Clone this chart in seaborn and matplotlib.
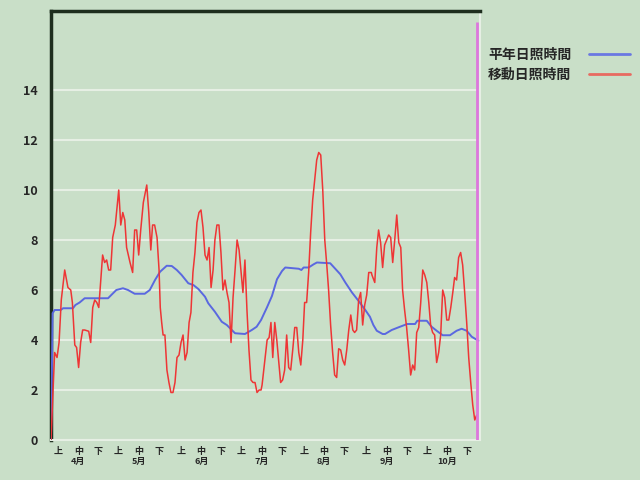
import numpy as np
import pandas as pd
import seaborn as sns
import matplotlib.pyplot as plt
from matplotlib.lines import Line2D

# days counted from April 1
normal_days = [0, 0.8, 1.8, 4.8, 6.0, 10.9, 12.1, 14.2, 16.7, 28.3, 29.9, 32.4, 35.7, 38.2,
               41.5, 46.5, 49.0, 51.6, 54.1, 57.4, 59.9, 62.4, 64.8, 68.1, 70.6, 73.1, 76.4,
               78.0, 81.3, 84.7, 87.2, 91.3, 96.2, 99.6, 102.0, 104.2, 107.1, 109.6, 112.1,
               114.6, 116.2, 122.9, 124.2, 125.3, 127.8, 130.3, 131.9, 138.5, 141.0, 143.5,
               146.0, 149.3, 152.6, 155.9, 158.2, 159.9, 161.6, 164.5, 165.7, 169.0, 173.1,
               176.7, 180.6, 181.7, 186.4, 188.8, 191.3, 194.3, 197.9, 201.2, 203.7, 206.2,
               208.7, 212.0]
normal_hours = [0.0, 5.07, 5.2, 5.2, 5.27, 5.27, 5.4, 5.5, 5.67, 5.67, 5.8, 6.0, 6.07, 6.0,
                5.85, 5.85, 6.0, 6.4, 6.73, 6.97, 6.96, 6.8, 6.6, 6.27, 6.2, 6.04, 5.73,
                5.47, 5.13, 4.73, 4.6, 4.27, 4.24, 4.4, 4.53, 4.8, 5.3, 5.76, 6.43,
                6.76, 6.9, 6.85, 6.8, 6.9, 6.9, 7.03, 7.1, 7.07, 6.85, 6.63,
                6.3, 5.9, 5.56, 5.2, 4.93, 4.6, 4.37, 4.24, 4.24, 4.4, 4.53,
                4.64, 4.64, 4.77, 4.77, 4.53, 4.37, 4.19, 4.19, 4.37, 4.45, 4.37,
                4.13, 3.97]

moving_days = [0, 1.8, 3.0, 4.0, 5.1, 6.8, 8.4, 9.8, 10.6, 11.8, 12.7, 13.7, 14.7, 15.7,
               16.7, 18.7, 19.7, 20.7, 21.7, 22.7, 23.7, 24.7, 25.6, 26.6, 27.6, 28.6, 29.6,
               30.6, 31.9, 33.6, 34.6, 35.6, 36.6, 37.5, 39.2, 40.5, 41.5, 42.5, 43.5, 44.5,
               45.8, 47.5, 48.5, 49.5, 50.4, 51.4, 52.6, 53.6, 54.2, 54.9, 55.6, 56.5, 57.5,
               58.5, 59.5, 60.5, 61.5, 62.5, 63.5, 64.5, 65.5, 66.5, 67.5, 68.5, 69.4, 70.4,
               71.4, 72.4, 73.4, 74.4, 75.4, 76.4, 77.4, 78.4, 79.4, 80.4, 81.3, 82.3, 83.3,
               84.3, 85.3, 86.3, 87.3, 88.3, 89.3, 90.3, 91.3, 92.3, 93.3, 94.2, 95.2, 96.2,
               97.2, 98.2, 99.2, 100.2, 101.2, 102.2, 103.2, 104.2, 104.7, 105.8, 107.2,
               108.2, 109.1, 110.0, 111.0, 112.0, 112.9, 113.9, 114.9, 115.9, 116.9, 117.9,
               118.9, 119.9, 120.9, 121.9, 122.9, 123.9, 124.9, 125.8, 126.8, 127.8, 128.8,
               129.8, 130.8, 131.8, 132.8, 133.8, 134.8, 135.8, 136.8, 137.7, 138.7, 139.7,
               140.7, 141.7, 142.7, 143.7, 144.7, 145.7, 146.7, 147.7, 148.7, 149.7, 150.6,
               151.6, 152.6, 153.6, 154.6, 155.6, 156.6, 157.6, 158.9, 159.2, 160.6, 161.6,
               162.5, 163.5, 164.5, 165.5, 166.5, 167.5, 168.5, 169.5, 170.5, 171.5, 172.5,
               173.5, 174.4, 175.4, 176.4, 177.4, 178.4, 179.4, 180.4, 181.4, 182.4, 183.4,
               184.4, 185.4, 186.4, 187.4, 188.3, 189.3, 190.3, 191.3, 192.3, 193.3, 194.3,
               195.3, 196.3, 197.3, 198.3, 199.3, 200.2, 201.2, 202.2, 203.2, 204.2, 205.2,
               206.2, 207.2, 208.2, 209.2, 210.2, 211.2]
moving_hours = [0.0, 3.5, 3.3, 3.9, 5.6, 6.8, 6.1, 6.0, 5.5, 3.8, 3.7, 2.9, 3.9, 4.4,
                4.4, 4.35, 3.9, 5.3, 5.6, 5.5, 5.3, 6.4, 7.4, 7.1, 7.2, 6.8, 6.8,
                8.1, 8.6, 10.0, 8.6, 9.1, 8.8, 7.7, 7.1, 6.7, 8.4, 8.4, 7.4, 8.4,
                9.5, 10.2, 9.1, 7.6, 8.6, 8.6, 8.1, 6.8, 5.3, 4.7, 4.2, 4.2, 2.8,
                2.3, 1.9, 1.9, 2.3, 3.3, 3.4, 3.9, 4.2, 3.2, 3.5, 4.7, 5.1, 6.7,
                7.5, 8.7, 9.1, 9.2, 8.5, 7.4, 7.2, 7.7, 6.1, 6.8, 8.0, 8.6, 8.6,
                7.5, 6.0, 6.4, 5.9, 5.5, 3.9, 5.7, 6.8, 8.0, 7.6, 6.8, 5.9, 7.2,
                5.2, 3.6, 2.4, 2.3, 2.3, 1.9, 2.0, 2.0, 2.2, 3.0, 4.0,
                4.1, 4.7, 3.3, 4.7, 4.0, 3.2, 2.3, 2.4, 2.8, 4.2, 2.9,
                2.8, 3.6, 4.5, 4.5, 3.5, 3.0, 4.0, 5.5, 5.5, 6.7, 8.3,
                9.6, 10.4, 11.2, 11.5, 11.4, 10.0, 8.0, 7.0, 6.0, 4.6, 3.5,
                2.6, 2.5, 3.65, 3.6, 3.2, 3.0, 3.6, 4.4, 5.0, 4.4, 4.3,
                4.4, 5.6, 5.9, 4.6, 5.4, 5.8, 6.7, 6.7, 6.6, 6.3, 7.7,
                8.4, 7.9, 6.9, 7.8, 8.0, 8.2, 8.1, 7.1, 8.0, 9.0, 7.9,
                7.7, 6.0, 5.2, 4.5, 3.6, 2.6, 3.0, 2.8, 4.3, 4.5, 5.5,
                6.8, 6.6, 6.3, 5.5, 4.6, 4.3, 4.2, 3.1, 3.5, 4.2, 6.0,
                5.7, 4.8, 4.8, 5.3, 5.9, 6.5, 6.4, 7.3, 7.5, 7.0, 5.9,
                4.7, 3.3, 2.3, 1.4, 0.8, 1.0]

month_names = ["4月", "5月", "6月", "7月", "8月", "9月", "10月"]
month_lengths = [30, 31, 30, 31, 31, 30, 31]
dekad_names = ["上", "中", "下"]
dekad_offsets = [3.5, 13.5, 23.5]
today_day = 211.2
today_top = 16.7

normal_label = "平年日照時間"
moving_label = "移動日照時間"

BG = "#c9dfc8"
BLUE = "#5a68e0"
RED = "#ee3535"

sns.set_style("white")
plt.rcParams['font.family'] = ['Noto Sans CJK JP', 'DejaVu Sans']

fig = plt.figure(figsize=(6.4, 4.8), dpi=100, facecolor=BG)
ax = fig.add_axes([51/640, 40/480, 429/640, 429/480])
ax.set_facecolor(BG)

normal = pd.DataFrame({"day": normal_days, "hours": normal_hours})
moving = pd.DataFrame({"day": moving_days, "hours": moving_hours})

for y in range(0, 16, 2):
    ax.axhline(y, color="#e6efe4", lw=1.5, zorder=1)

sns.lineplot(data=normal, x="day", y="hours", color=BLUE, lw=1.4, ax=ax, zorder=3)
sns.lineplot(data=moving, x="day", y="hours", color=RED, lw=1.1, ax=ax, zorder=4)
ax.vlines(today_day, 0, today_top, color="#dd77dd", lw=2, zorder=5)

ax.set_xlim(0, 212.8)
ax.set_ylim(0, 17.16)
ax.set_xlabel("")
ax.set_ylabel("")

ax.set_yticks(range(0, 16, 2))
ax.set_yticklabels([str(v) for v in range(0, 16, 2)], fontsize=9, fontweight="bold")

pos, labs = [], []
start = 0
for m, n in zip(month_names, month_lengths):
    for d, off in zip(dekad_names, dekad_offsets):
        pos.append(start + off)
        labs.append(d + "\n" + m if d == "中" else d)
    start += n
ax.set_xticks(pos)
ax.set_xticklabels(labs, fontsize=6.5, fontweight="bold", linespacing=1.15, va="top")
ax.tick_params(axis="both", length=0)
ax.tick_params(axis="y", pad=9.5)
ax.tick_params(axis="x", pad=5)

for s in ["left", "top"]:
    ax.spines[s].set_color("#1e2e1e")
    ax.spines[s].set_linewidth(2.5)
for s in ["right", "bottom"]:
    ax.spines[s].set_color("#e6efe4")
    ax.spines[s].set_linewidth(1.5)

handles = [Line2D([], [], color="#6a78e2", lw=2), Line2D([], [], color="#e86a60", lw=2)]
fig.legend(handles, [normal_label, moving_label], loc="upper left",
           bbox_to_anchor=(488/640, 1 - 48/480), frameon=False, markerfirst=False,
           prop={"size": 10, "weight": "bold"}, handlelength=2.95, handletextpad=1.25,
           labelspacing=0.45, borderpad=0, borderaxespad=0)

fig.savefig("out.png", dpi=100, facecolor=BG)
